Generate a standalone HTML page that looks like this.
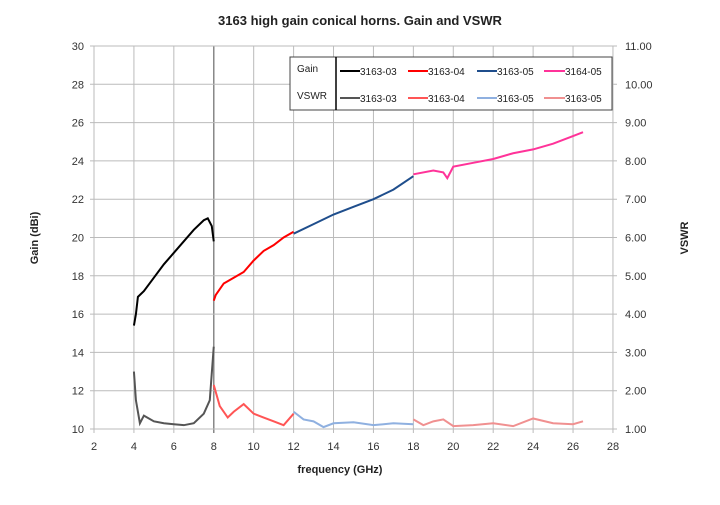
<!DOCTYPE html><html><head><style>body{margin:0;background:#fff}svg{font-family:"Liberation Sans",sans-serif}</style></head><body>
<svg id="s" width="720" height="500" xmlns="http://www.w3.org/2000/svg">
<rect width="720" height="500" fill="#fff"/>
<text x="360" y="25" text-anchor="middle" font-size="13" font-weight="bold" fill="#222">3163 high gain conical horns. Gain and VSWR</text>
<g id="g"></g>
<text x="340" y="473" text-anchor="middle" font-size="11" font-weight="bold" fill="#222">frequency (GHz)</text>
<text transform="translate(38,238) rotate(-90)" text-anchor="middle" font-size="11" font-weight="bold" fill="#222">Gain (dBi)</text>
<text transform="translate(688,238) rotate(-90)" text-anchor="middle" font-size="11" font-weight="bold" fill="#222">VSWR</text>
<rect x="290" y="57" width="322" height="53" fill="#fff" stroke="#444"/>
<line x1="336" y1="57" x2="336" y2="110" stroke="#000" stroke-width="1.5"/>
<g font-size="10" fill="#222">
<text x="297" y="72">Gain</text><text x="297" y="99">VSWR</text>
<line x1="340" y1="71" x2="360" y2="71" stroke="#000" stroke-width="2"/><text x="360" y="75">3163-03</text>
<line x1="408" y1="71" x2="428" y2="71" stroke="#f00" stroke-width="2"/><text x="428" y="75">3163-04</text>
<line x1="477" y1="71" x2="497" y2="71" stroke="#1f4e8c" stroke-width="2"/><text x="497" y="75">3163-05</text>
<line x1="544" y1="71" x2="565" y2="71" stroke="#ff3399" stroke-width="2"/><text x="565" y="75">3164-05</text>
<line x1="340" y1="98" x2="360" y2="98" stroke="#555" stroke-width="2"/><text x="360" y="102">3163-03</text>
<line x1="408" y1="98" x2="428" y2="98" stroke="#f55" stroke-width="2"/><text x="428" y="102">3163-04</text>
<line x1="477" y1="98" x2="497" y2="98" stroke="#8fb0e0" stroke-width="2"/><text x="497" y="102">3163-05</text>
<line x1="544" y1="98" x2="565" y2="98" stroke="#f09090" stroke-width="2"/><text x="565" y="102">3163-05</text>
</g>
</svg>
<script>
var X=f=>94+(f-2)*19.96,Y=g=>429-(g-10)*19.15,G=document.getElementById('g'),h='';
for(var f=2;f<=28;f+=2){h+=`<line x1="${X(f)}" y1="46" x2="${X(f)}" y2="433" stroke="${f==8?'#888':'#bbb'}" stroke-width="${f==8?1.5:1}"/><text x="${X(f)}" y="450" text-anchor="middle" font-size="11" fill="#333">${f}</text>`;}
for(var g=10;g<=30;g+=2){h+=`<line x1="90" y1="${Y(g)}" x2="617" y2="${Y(g)}" stroke="#bbb"/><text x="84" y="${Y(g)+4}" text-anchor="end" font-size="11" fill="#333">${g}</text><text x="625" y="${Y(g)+4}" font-size="11" fill="#333">${(1+(g-10)/2).toFixed(2)}</text>`;}
var S=[["#000",[[4,15.4],[4.1,16],[4.2,16.9],[4.5,17.2],[5,17.9],[5.5,18.6],[6,19.2],[6.5,19.8],[7,20.4],[7.5,20.9],[7.7,21],[7.9,20.6],[8,19.8]]],
["#f00",[[8,16.7],[8.1,17],[8.5,17.6],[9,17.9],[9.5,18.2],[10,18.8],[10.5,19.3],[11,19.6],[11.5,20],[12,20.3]]],
["#1f4e8c",[[12,20.2],[13,20.7],[14,21.2],[15,21.6],[16,22],[17,22.5],[18,23.2]]],
["#ff3399",[[18,23.3],[19,23.5],[19.5,23.4],[19.7,23.1],[20,23.7],[21,23.9],[22,24.1],[23,24.4],[24,24.6],[25,24.9],[26,25.3],[26.5,25.5]]],
["#555",[[4,13],[4.1,11.5],[4.3,10.3],[4.5,10.7],[5,10.4],[5.5,10.3],[6,10.25],[6.5,10.2],[7,10.3],[7.5,10.8],[7.8,11.5],[8,14.3]]],
["#f55",[[8,12.3],[8.3,11.2],[8.7,10.6],[9,10.9],[9.5,11.3],[10,10.8],[10.5,10.6],[11,10.4],[11.5,10.2],[12,10.8]]],
["#8fb0e0",[[12,10.9],[12.5,10.5],[13,10.4],[13.5,10.1],[14,10.3],[15,10.35],[16,10.2],[17,10.3],[18,10.25]]],
["#f09090",[[18,10.5],[18.5,10.2],[19,10.4],[19.5,10.5],[20,10.15],[21,10.2],[22,10.3],[23,10.15],[24,10.55],[25,10.3],[26,10.25],[26.5,10.4]]]];
S.forEach(s=>{h+=`<polyline fill="none" stroke="${s[0]}" stroke-width="2" points="${s[1].map(p=>X(p[0])+','+Y(p[1])).join(' ')}"/>`;});
G.innerHTML=h;
</script></body></html>
